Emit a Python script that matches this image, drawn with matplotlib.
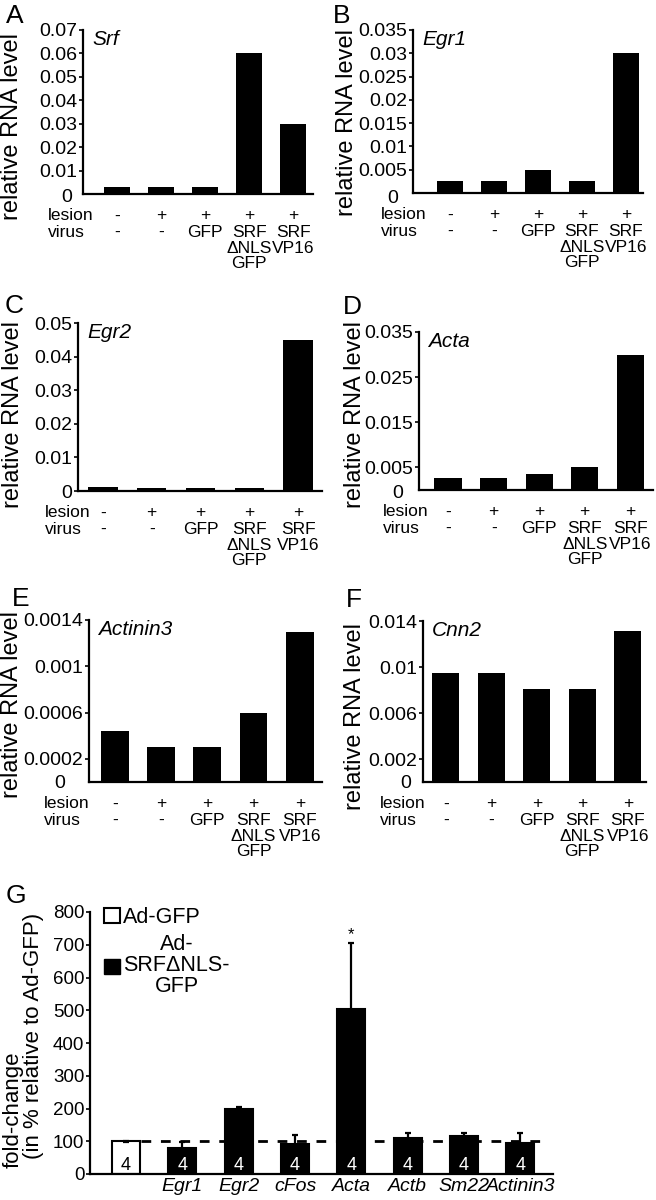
import matplotlib
matplotlib.use("Agg")
import matplotlib.pyplot as plt
from matplotlib.patches import Patch

plt.rcParams['font.family'] = ['Liberation Sans', 'DejaVu Sans']

# conditions shared by panels A-F
lesion = ['-', '+', '+', '+', '+']
virus = ['-', '-', 'GFP', 'SRF\nΔNLS\nGFP', 'SRF\nVP16']

# relative RNA levels per gene
genes = ['Srf', 'Egr1', 'Egr2', 'Acta', 'Actinin3', 'Cnn2']
srf = [0.003, 0.003, 0.003, 0.060, 0.030]
egr1 = [0.0026, 0.0026, 0.005, 0.0026, 0.030]
egr2 = [0.0012, 0.0009, 0.0009, 0.0009, 0.045]
acta = [0.0026, 0.0026, 0.0036, 0.005, 0.030]
actinin3 = [0.00044, 0.0003, 0.0003, 0.0006, 0.0013]
cnn2 = [0.0095, 0.0095, 0.0081, 0.0081, 0.0131]
levels = [srf, egr1, egr2, acta, actinin3, cnn2]

yticks = [
    [0.01, 0.02, 0.03, 0.04, 0.05, 0.06, 0.07],
    [0.005, 0.01, 0.015, 0.02, 0.025, 0.03, 0.035],
    [0, 0.01, 0.02, 0.03, 0.04, 0.05],
    [0.005, 0.015, 0.025, 0.035],
    [0.0002, 0.0006, 0.001, 0.0014],
    [0.002, 0.006, 0.01, 0.014],
]
ymax = [0.07, 0.035, 0.05, 0.035, 0.0014, 0.014]

# panel G
g_genes = ['', 'Egr1', 'Egr2', 'cFos', 'Acta', 'Actb', 'Sm22', 'Actinin3']
g_vals = [100, 78, 197, 93, 505, 111, 116, 96]
g_err = [2, 20, 7, 25, 200, 15, 10, 30]
g_n = [4, 4, 4, 4, 4, 4, 4, 4]

W, H = 656, 1200
fig = plt.figure(figsize=(W / 100, H / 100), dpi=100)


def px_axes(l, t, r, b):
    return fig.add_axes([l / W, 1 - b / H, (r - l) / W, (b - t) / H])


def style(ax):
    ax.spines[['top', 'right']].set_visible(False)
    ax.spines[['left', 'bottom']].set_linewidth(1.6)
    ax.tick_params(axis='y', direction='out', length=3, width=1.2, pad=1, labelsize=14)
    ax.tick_params(axis='x', length=0)


# pixel layout of panels A-F
boxes = [(83, 30, 313, 194), (413, 30, 643, 193), (78, 323, 322, 491),
         (419, 332, 653, 490), (89, 620, 322, 782), (423, 621, 646, 782)]
xlims = [(-0.77, 4.45), (-0.84, 4.39), (-0.51, 4.49), (-0.64, 4.5), (-0.56, 4.48), (-0.5, 4.4)]
letters = ['A', 'B', 'C', 'D', 'E', 'F']
letter_pos = [(6, 4), (333, 4), (5, 294), (343, 295), (12, 587), (346, 588)]
ylab_pos = [(12, 127), (347, 122), (13, 414), (355, 415), (12, 704), (355, 716)]
row_x = [48, 381, 45, 383, 44, 380]
zero_off = [(16, 4), (20, 5), None, (21, 4), (29, 2), (17, 2)]

for k in range(6):
    ax = px_axes(*boxes[k])
    style(ax)
    x = range(len(levels[k]))
    ax.bar(x, levels[k], width=0.6, color='black')
    ax.set_xlim(*xlims[k])
    ax.set_ylim(0, ymax[k])
    ax.set_xticks([])
    ax.set_yticks(yticks[k], [f'{t:g}' for t in yticks[k]])
    if zero_off[k]:
        dx, dy = zero_off[k]
        ax.annotate('0', xy=(0, 0), xycoords='axes fraction', xytext=(-dx * 0.72, -dy * 0.72),
                    textcoords='offset points', ha='center', va='center', fontsize=14)
    ax.text(0.04, 1.0, genes[k], transform=ax.transAxes, ha='left', va='top',
            fontsize=15, style='italic')
    # condition rows under the bars
    ax.annotate('lesion', xy=(row_x[k], 0), xycoords=('figure pixels', 'axes fraction'),
                xytext=(0, -15.8), textcoords='offset points', ha='left', va='center',
                fontsize=12.5)
    ax.annotate('virus', xy=(row_x[k], 0), xycoords=('figure pixels', 'axes fraction'),
                xytext=(0, -22.5), textcoords='offset points', ha='left', va='top',
                fontsize=12.5, linespacing=1.05)
    for i in x:
        ax.annotate(lesion[i], xy=(i, 0), xycoords=('data', 'axes fraction'),
                    xytext=(0, -15.8), textcoords='offset points', ha='center', va='center',
                    fontsize=12.5)
        ax.annotate(virus[i], xy=(i, 0), xycoords=('data', 'axes fraction'),
                    xytext=(0, -22.5), textcoords='offset points', ha='center', va='top',
                    fontsize=12.5, linespacing=1.05)
    lx, ly = letter_pos[k]
    fig.text(lx / W, 1 - ly / H, letters[k], ha='left', va='top', fontsize=19)
    yx, yy = ylab_pos[k]
    fig.text(yx / W, 1 - yy / H, 'relative RNA level', rotation=90, ha='center', va='center',
             fontsize=17)

# panel G
ax = px_axes(90, 912, 553, 1174)
style(ax)
ax.tick_params(axis='y', labelsize=13.5)
gx = range(len(g_vals))
colors = ['white'] + ['black'] * (len(g_vals) - 1)
ax.bar(gx, g_vals, width=0.5, color=colors, edgecolor='black', linewidth=1.5,
       yerr=g_err, error_kw=dict(ecolor='black', elinewidth=1.6, capsize=2, capthick=1.6))
ax.hlines(100, 0.27, 7.5, colors='black', linewidth=2, linestyles=(0, (3.5, 3.5)), zorder=3)
for i in gx:
    ax.text(i, 27, str(g_n[i]), ha='center', va='center', fontsize=13,
            color='black' if i == 0 else 'white', zorder=4)
ax.text(4, 730, '*', ha='center', va='center', fontsize=12)
ax.set_xlim(-0.64, 7.58)
ax.set_ylim(0, 800)
ax.set_yticks(range(0, 801, 100))
ax.set_xticks(list(gx), g_genes, fontsize=14, style='italic')
ax.tick_params(axis='x', pad=3)
leg = ax.legend(handles=[Patch(facecolor='white', edgecolor='black', linewidth=1.5),
                         Patch(facecolor='black', edgecolor='black')],
                labels=['Ad-GFP', 'Ad-\nSRFΔNLS-\nGFP'], loc='upper left',
                bbox_to_anchor=(0.03, 1.02), frameon=False, fontsize=15.5, borderpad=0,
                borderaxespad=0, handlelength=0.75, handleheight=0.7, handletextpad=0.15,
                labelspacing=0.3)
for t in leg.get_texts():
    t.set_multialignment('center')
    t.set_linespacing(1.0)
fig.text(6 / W, 1 - 884 / H, 'G', ha='left', va='top', fontsize=19)
fig.text(13 / W, 1 - 1110 / H, 'fold-change', rotation=90, ha='center', va='center', fontsize=16)
fig.text(34 / W, 1 - 1036 / H, '(in % relative to Ad-GFP)', rotation=90, ha='center',
         va='center', fontsize=16)

fig.savefig('out.png', dpi=100)
